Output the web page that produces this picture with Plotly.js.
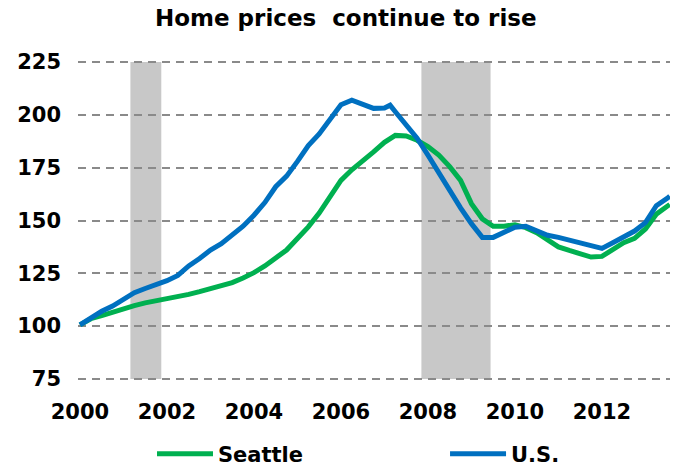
<!DOCTYPE html>
<html>
<head>
<meta charset="utf-8">
<script src="https://cdn.plot.ly/plotly-3.0.1.min.js"></script>
<style>html,body{margin:0;padding:0;background:#fff;}#chart{width:678px;height:468px;}</style>
</head>
<body>
<div id="chart"></div>
<script>
// Dates as decimal years
var dates = [2000.00,2000.25,2000.50,2000.75,2001.00,2001.25,2001.50,2001.75,2002.00,2002.25,2002.50,2002.75,
  2003.00,2003.25,2003.50,2003.75,2004.00,2004.25,2004.50,2004.75,2005.00,2005.25,2005.50,2005.75,
  2006.00,2006.25,2006.50,2006.75,2007.00,2007.13,2007.25,2007.50,2007.75,2008.00,2008.25,2008.50,2008.75,
  2009.00,2009.25,2009.50,2009.75,2010.00,2010.25,2010.50,2010.75,2011.00,2011.25,2011.50,2011.75,
  2012.00,2012.25,2012.50,2012.75,2013.00,2013.25,2013.50,2013.56];
var seattle = [100.6,103.5,105.0,106.6,108.6,109.7,111.0,112.0,112.8,113.6,115.0,116.3,
  117.7,119.0,120.6,122.8,125.3,128.5,132.2,136.0,141.5,147.0,153.5,161.5,
  169.0,174.0,178.6,182.5,187.0,189.0,190.3,190.0,188.0,185.0,181.0,175.5,169.0,
  158.0,150.8,147.3,147.3,148.0,146.6,144.2,141.0,137.5,135.8,134.5,132.7,
  133.0,136.3,139.5,141.5,146.0,153.0,157.0,157.6];
var us = [100.6,104.0,107.0,109.5,112.5,115.8,117.8,119.5,121.5,124.0,128.5,132.0,
  136.0,139.0,143.0,147.3,152.5,158.5,166.0,171.0,178.0,185.5,191.0,197.5,
  204.8,207.0,205.0,203.1,203.3,204.6,201.5,195.5,189.0,181.0,172.5,165.0,156.0,
  148.5,142.0,142.0,144.5,146.8,147.3,145.0,143.0,142.0,140.8,139.5,138.0,
  136.8,139.5,142.4,145.0,149.0,157.0,160.5,161.5];
var recessionStart = [2001.16, 2007.85];
var recessionEnd = [2001.87, 2009.44];
var yTicks = [75,100,125,150,175,200,225];
var xTicks = [2000,2002,2004,2006,2008,2010,2012];

var FONT = '"DejaVu Sans", Verdana, sans-serif';
var yMin = yTicks[0], yMax = yTicks[yTicks.length-1];
var shapes = recessionStart.map(function(s, i){
  return {type:'rect', layer:'below', xref:'x', yref:'y', x0:s, x1:recessionEnd[i], y0:yMin, y1:yMax,
    fillcolor:'#c8c8c8', line:{width:0}};
});

var traces = [
  {x:dates, y:seattle, name:'<b>Seattle</b>', type:'scatter', mode:'lines',
   line:{color:'#00b050', width:5}, legend:'legend'},
  {x:dates, y:us, name:'<b>U.S.</b>', type:'scatter', mode:'lines',
   line:{color:'#0070c0', width:5}, legend:'legend2'}
];

var pad = 1;
var layout = {
  width:678, height:468,
  margin:{l:78, r:8, t:59.6, b:86.6, autoexpand:false},
  paper_bgcolor:'#ffffff', plot_bgcolor:'#ffffff',
  font:{family:FONT, color:'#000000', size:21},
  title:{text:'<b>Home prices  continue to rise</b>', font:{family:FONT, size:23, color:'#000'},
    x:0.51, xanchor:'center', y:0.962, yanchor:'middle'},
  xaxis:{range:[1999.955, 2013.565], tickvals:xTicks, ticktext:xTicks.map(function(v){return '<b>'+v+'</b>';}),
    showgrid:false, zeroline:false, showline:false, ticks:'', ticklabelstandoff:16,
    tickfont:{family:FONT, size:21, color:'#000'}},
  yaxis:{range:[yMin-pad, yMax+pad], tickvals:yTicks, ticktext:yTicks.map(function(v){return '<b>'+v+'</b>';}),
    showgrid:true, gridcolor:'#8a8a8a', gridwidth:2, griddash:'8px,6px',
    zeroline:false, showline:false, ticks:'', ticklabelstandoff:16,
    tickfont:{family:FONT, size:21, color:'#000'}},
  shapes:shapes,
  showlegend:true,
  legend:{orientation:'h', x:0.125, xanchor:'left', y:-0.228, yanchor:'middle', bgcolor:'rgba(0,0,0,0)',
    font:{family:FONT, size:21, color:'#000'}, itemwidth:56},
  legend2:{orientation:'h', x:0.62, xanchor:'left', y:-0.228, yanchor:'middle', bgcolor:'rgba(0,0,0,0)',
    font:{family:FONT, size:21, color:'#000'}, itemwidth:56}
};
Plotly.newPlot('chart', traces, layout, {displayModeBar:false, staticPlot:true});
</script>
</body>
</html>
